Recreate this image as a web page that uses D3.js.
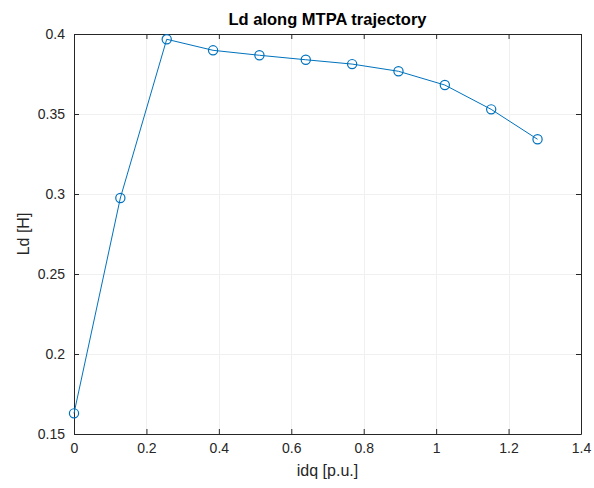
<!DOCTYPE html>
<html>
<head>
<meta charset="utf-8">
<script src="https://cdn.jsdelivr.net/npm/d3@7"></script>
<style>
  body { margin: 0; background: #fff; }
  svg { display: block; font-family: "Liberation Sans", Arial, sans-serif; }
</style>
</head>
<body>
<div id="chart"></div>
<script>
// data
const idq = [0, 0.128, 0.256, 0.384, 0.512, 0.64, 0.768, 0.896, 1.024, 1.152, 1.28];
const ld = [0.1629, 0.2975, 0.3967, 0.3898, 0.3867, 0.3839, 0.3812, 0.3767, 0.3681, 0.3529, 0.3342];
const xTicks = [0, 0.2, 0.4, 0.6, 0.8, 1, 1.2, 1.4];
const yTicks = [0.15, 0.2, 0.25, 0.3, 0.35, 0.4];

const W = 594, H = 488;
const margin = { top: 34, right: 13, bottom: 54, left: 74 };
const width = W - margin.left - margin.right;
const height = H - margin.top - margin.bottom;

const svg = d3.select('#chart')
  .append('svg')
  .attr('width', W)
  .attr('height', H);

const g = svg.append('g')
  .attr('transform', `translate(${margin.left},${margin.top})`);

const x = d3.scaleLinear().domain([0, 1.4]).range([0, width]);
const y = d3.scaleLinear().domain([0.15, 0.4]).range([height, 0]);

// grid
g.append('g')
  .selectAll('line.vg')
  .data(xTicks.slice(1, -1))
  .enter().append('line')
  .attr('x1', d => Math.round(x(d)) + 0.5).attr('x2', d => Math.round(x(d)) + 0.5)
  .attr('y1', 0).attr('y2', height)
  .attr('stroke', '#f0f0f0');
g.append('g')
  .selectAll('line.hg')
  .data(yTicks.slice(1, -1))
  .enter().append('line')
  .attr('y1', d => Math.round(y(d)) + 0.5).attr('y2', d => Math.round(y(d)) + 0.5)
  .attr('x1', 0).attr('x2', width)
  .attr('stroke', '#f0f0f0');

const fmt = d => String(d);

// axes (ticks point inward)
const xAxis = g.append('g')
  .attr('transform', `translate(0,${height})`)
  .call(d3.axisBottom(x).tickValues(xTicks).tickFormat(fmt).tickSizeInner(-5).tickSizeOuter(0).tickPadding(9));
const yAxis = g.append('g')
  .call(d3.axisLeft(y).tickValues(yTicks).tickFormat(fmt).tickSizeInner(-5).tickSizeOuter(0).tickPadding(9));
const xTop = g.append('g')
  .call(d3.axisTop(x).tickValues(xTicks).tickFormat('').tickSizeInner(-5).tickSizeOuter(0));
const yRight = g.append('g')
  .attr('transform', `translate(${width},0)`)
  .call(d3.axisRight(y).tickValues(yTicks).tickFormat('').tickSizeInner(-5).tickSizeOuter(0));

[xAxis, yAxis, xTop, yRight].forEach(a => {
  a.selectAll('path, line').attr('stroke', '#262626');
  a.selectAll('text').attr('fill', '#262626').style('font-size', '14px').style('font-family', '"Liberation Sans", Arial, sans-serif');
});

// line + markers
const line = d3.line().x((d, i) => x(idq[i])).y(d => y(d));
g.append('path')
  .datum(ld)
  .attr('d', line)
  .attr('fill', 'none')
  .attr('stroke', '#0072BD')
  .attr('stroke-width', 1);

g.selectAll('circle')
  .data(ld)
  .enter().append('circle')
  .attr('cx', (d, i) => x(idq[i]))
  .attr('cy', d => y(d))
  .attr('r', 4.6)
  .attr('fill', 'none')
  .attr('stroke', '#0072BD')
  .attr('stroke-width', 1.2);

// labels
svg.append('text')
  .attr('x', margin.left + width / 2)
  .attr('y', 25)
  .attr('text-anchor', 'middle')
  .style('font-size', '16.5px')
  .style('font-weight', 'bold')
  .attr('fill', '#000')
  .text('Ld along MTPA trajectory');

svg.append('text')
  .attr('x', margin.left + width / 2)
  .attr('y', 476)
  .attr('text-anchor', 'middle')
  .style('font-size', '16px')
  .attr('fill', '#262626')
  .text('idq [p.u.]');

svg.append('text')
  .attr('transform', `translate(29,${margin.top + height / 2}) rotate(-90)`)
  .attr('text-anchor', 'middle')
  .style('font-size', '16px')
  .attr('fill', '#262626')
  .text('Ld [H]');
</script>
</body>
</html>
